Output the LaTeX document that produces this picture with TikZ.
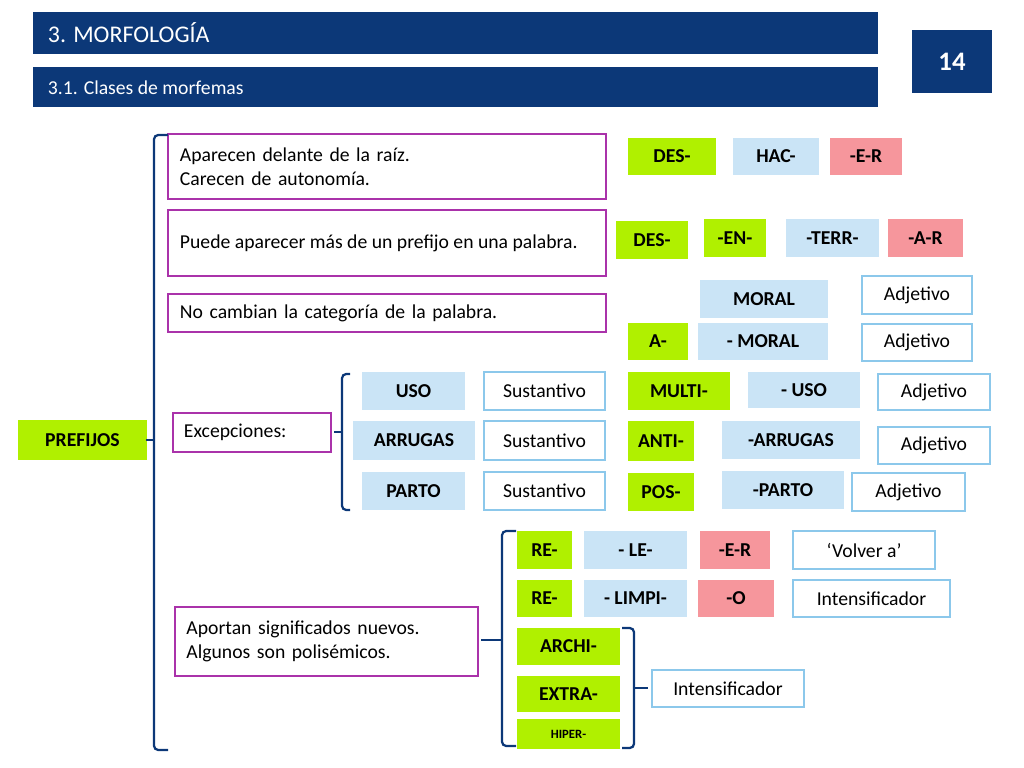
\documentclass[tikz,border=0pt]{standalone}
\usepackage{fontspec}
\setmainfont{Carlito}
\definecolor{navy}{RGB}{12,56,120}
\definecolor{lime}{RGB}{176,240,0}
\definecolor{sky}{RGB}{202,228,246}
\definecolor{rosa}{RGB}{246,150,156}
\definecolor{edge}{RGB}{140,200,235}
\definecolor{lila}{RGB}{170,50,170}
\tikzset{
  base/.style={inner sep=0pt, font=\fontsize{14}{17}\selectfont},
  verde/.style={base, fill=lime, font=\fontsize{14}{17}\selectfont\bfseries},
  azul/.style={base, fill=sky, font=\fontsize{14}{17}\selectfont\bfseries},
  rojo/.style={base, fill=rosa, font=\fontsize{14}{17}\selectfont\bfseries},
  marco/.style={base, draw=edge, line width=1.5pt, fill=white},
  caja/.style={base, draw=lila, line width=1.5pt, align=left, inner xsep=8pt},
  cabecera/.style={fill=navy, text=white, inner sep=0pt, anchor=west},
  llave/.style={navy, line width=1.6pt, rounded corners=3pt}
}
% box by pixel corners
\newcommand\bx[7]{\node[#6, minimum width={(#4-#2)*0.025cm}, minimum height={(#5-#3)*0.025cm}] (#1) at ({(#2+#4)/2},{(#3+#5)/2}) {#7};}
% bracket: x tip side, x open side, top, bottom, tip y, tip direction
\newcommand\llave[5]{\draw[llave] (#2,#3) -- (#1,#3) -- (#1,#4) -- (#2,#4); \draw[llave] (#1,#5) -- ++(#5pt*0+0cm-0.15cm*0+0,0) -- ++(-#2*0,0);}
\begin{document}
\begin{tikzpicture}[x=0.025cm, y=-0.025cm]
  \useasboundingbox (0,0) rectangle (1024,768);
  % headers
  \fill[navy] (33,12) rectangle (878,54);
  \node[text=white, anchor=west, font=\fontsize{17}{20}\selectfont] (tit) at (43,33) {3. MORFOLOGÍA};
  \fill[navy] (33,67) rectangle (878,107);
  \node[text=white, anchor=west, font=\fontsize{14}{17}\selectfont] (sub) at (43,88) {3.1. Clases de morfemas};
  \bx{pag}{912}{30}{992}{93}{base, fill=navy, text=white, font=\fontsize{19}{22}\selectfont\bfseries}{14}

  % left column
  \bx{pref}{18}{420}{147}{460}{verde}{PREFIJOS}
  \bx{p1}{168}{134}{606}{199}{caja, text width=10.35cm}{Aparecen delante de la raíz.\\Carecen de autonomía.}
  \bx{p2}{168}{210}{606}{276}{caja, align=justify, text width=10.35cm}{Puede aparecer más de un prefijo en una palabra.}
  \bx{p3}{168}{294}{606}{332}{caja, text width=10.35cm}{No cambian la categoría de la palabra.}
  \bx{exc}{173}{413}{331}{452}{caja, text width=3.4cm, anchor=center}{Excepciones:\\[3pt]}
  \bx{apo}{175}{607}{478}{676}{caja, text width=7.0cm}{Aportan significados nuevos.\\Algunos son polisémicos.}

  % braces
  \draw[llave] (168,135) -- (154,135) -- (154,750) -- (168,750);
  \draw[llave] (154,440) -- (146,440);
  \draw[llave] (350,374) -- (342,374) -- (342,510) -- (350,510);
  \draw[llave] (342,432) -- (334,432);
  \draw[llave] (516,531) -- (502,531) -- (502,746) -- (516,746);
  \draw[llave] (502,640) -- (481,640);
  \draw[llave] (622,628) -- (634,628) -- (634,748) -- (622,748);
  \draw[llave] (634,688) -- (648,688);

  % first examples
  \bx{des}{628}{138}{716}{175}{verde}{DES-}
  \bx{hac}{733}{138}{819}{175}{azul}{HAC-}
  \bx{er}{830}{138}{902}{175}{rojo}{-E-R}
  \bx{desb}{616}{221}{688}{259}{verde}{DES-}
  \bx{en}{704}{219}{766}{257}{verde}{-EN-}
  \bx{terr}{786}{219}{879}{257}{azul}{-TERR-}
  \bx{ar}{888}{219}{963}{257}{rojo}{-A-R}
  \bx{moral}{700}{280}{828}{318}{azul}{MORAL}
  \bx{adja}{862}{276}{972}{314}{marco}{Adjetivo}
  \bx{a}{628}{323}{688}{360}{verde}{A-}
  \bx{amoral}{698}{323}{828}{360}{azul}{- MORAL}
  \bx{adjb}{862}{324}{972}{361}{marco}{Adjetivo}

  % exceptions
  \bx{uso}{362}{372}{465}{410}{azul}{USO}
  \bx{susa}{484}{372}{605}{410}{marco}{Sustantivo}
  \bx{arr}{353}{421}{475}{460}{azul}{ARRUGAS}
  \bx{susb}{484}{421}{605}{460}{marco}{Sustantivo}
  \bx{parto}{362}{472}{465}{510}{azul}{PARTO}
  \bx{susc}{484}{472}{605}{510}{marco}{Sustantivo}
  \bx{multi}{628}{372}{730}{410}{verde}{MULTI-}
  \bx{muso}{748}{372}{860}{408}{azul}{- USO}
  \bx{adjc}{878}{374}{990}{410}{marco}{Adjetivo}
  \bx{anti}{628}{421}{694}{461}{verde}{ANTI-}
  \bx{aarr}{722}{421}{860}{459}{azul}{-ARRUGAS}
  \bx{adjd}{878}{427}{990}{464}{marco}{Adjetivo}
  \bx{pos}{628}{473}{694}{511}{verde}{POS-}
  \bx{pparto}{722}{471}{844}{509}{azul}{-PARTO}
  \bx{adje}{852}{473}{965}{511}{marco}{Adjetivo}

  % new meanings
  \bx{rea}{517}{531}{572}{569}{verde}{RE-}
  \bx{le}{584}{531}{687}{569}{azul}{- LE-}
  \bx{erb}{700}{531}{770}{569}{rojo}{-E-R}
  \bx{volver}{793}{531}{935}{569}{marco}{‘Volver a’}
  \bx{reb}{517}{580}{572}{617}{verde}{RE-}
  \bx{limpi}{584}{580}{687}{617}{azul}{- LIMPI-}
  \bx{o}{698}{580}{774}{617}{rojo}{-O}
  \bx{inta}{793}{580}{950}{617}{marco}{Intensificador}
  \bx{archi}{517}{628}{620}{665}{verde}{ARCHI-}
  \bx{extra}{517}{676}{620}{712}{verde}{EXTRA-}
  \bx{hiper}{517}{719}{620}{749}{verde, font=\fontsize{9}{11}\selectfont\bfseries}{HIPER-}
  \bx{intb}{652}{670}{804}{707}{marco}{Intensificador}
\end{tikzpicture}
\end{document}
